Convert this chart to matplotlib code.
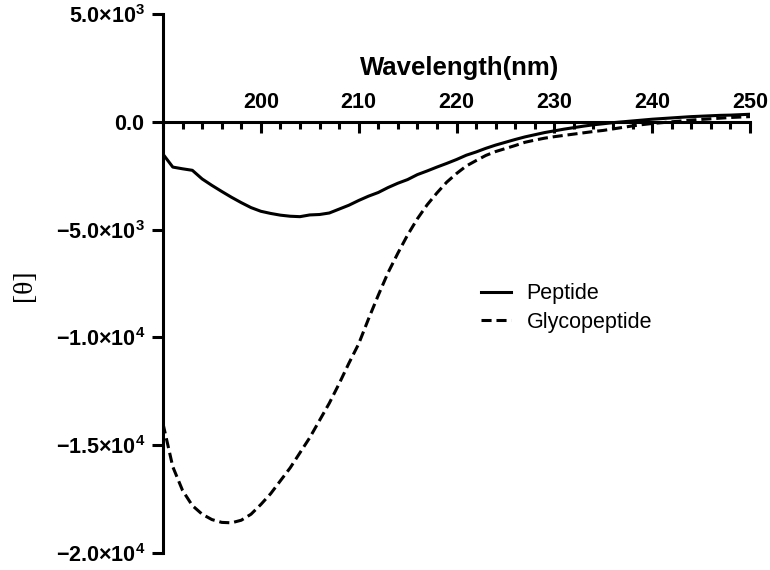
import numpy as np
import matplotlib
matplotlib.use("Agg")
from matplotlib import pyplot as plt
from matplotlib.ticker import MultipleLocator, FixedLocator

# CD spectra, mean residue ellipticity
wavelength = list(range(190, 251))
peptide = [
    -1500, -2100, -2180, -2250, -2650, -2950, -3230, -3500, -3750, -3980,
    -4150, -4250, -4330, -4380, -4400, -4320, -4300, -4230, -4050, -3870,
    -3650, -3450, -3280, -3050, -2850, -2680, -2450, -2280, -2100, -1930,
    -1750, -1550, -1400, -1230, -1080, -950, -820, -700, -600, -500,
    -420, -340, -270, -200, -140, -90, -40, 0, 40, 80,
    120, 150, 180, 210, 240, 260, 280, 300, 310, 330,
    350,
]
glycopeptide = [
    -14000, -16000, -17100, -17800, -18200, -18450, -18580, -18600, -18480, -18200,
    -17750, -17250, -16650, -16050, -15350, -14650, -13850, -13050, -12150, -11200,
    -10300, -9150, -8050, -7000, -6100, -5250, -4500, -3850, -3300, -2800,
    -2400, -2050, -1800, -1560, -1380, -1240, -1100, -950, -850, -760,
    -690, -630, -570, -510, -450, -400, -330, -260, -190, -130,
    -80, -40, 0, 40, 80, 110, 140, 170, 200, 220,
    240,
]
x_ticks = [200, 210, 220, 230, 240, 250]
y_ticks = [5000, 0, -5000, -10000, -15000, -20000]
y_tick_labels = [
    r"$\mathbf{5.0{\times}10^{3}}$",
    r"$\mathbf{0.0}$",
    r"$\mathbf{-5.0{\times}10^{3}}$",
    r"$\mathbf{-1.0{\times}10^{4}}$",
    r"$\mathbf{-1.5{\times}10^{4}}$",
    r"$\mathbf{-2.0{\times}10^{4}}$",
]

plt.rcParams["font.family"] = ["Liberation Sans", "DejaVu Sans"]
plt.rcParams["mathtext.fontset"] = "custom"
plt.rcParams["mathtext.rm"] = "Liberation Sans"
plt.rcParams["mathtext.bf"] = "Liberation Sans:bold"

W, H = 770, 570
fig = plt.figure(figsize=(7.7, 5.7), dpi=100)
ax = fig.add_axes([163 / W, 1 - 553 / H, (750 - 163) / W, (553 - 14) / H])

lw = 2.2
ax.plot(wavelength, peptide, color="black", lw=lw, label="Peptide")
ax.plot(wavelength, glycopeptide, color="black", lw=lw, linestyle=(0, (3.3, 1.6)),
        label="Glycopeptide")

ax.set_xlim(190, 250)
ax.set_ylim(-20000, 5000)

# x axis sits at y = 0, labels above it
ax.spines["bottom"].set_visible(False)
ax.spines["right"].set_visible(False)
ax.spines["top"].set_position(("data", 0))
ax.spines["top"].set_linewidth(2.2)
ax.spines["left"].set_linewidth(2.2)
ax.xaxis.tick_top()
ax.xaxis.set_major_locator(FixedLocator(x_ticks))
ax.xaxis.set_minor_locator(MultipleLocator(2))
ax.tick_params(axis="x", which="major", direction="in", length=8, width=2.2,
               labelsize=15.5, pad=6)
ax.tick_params(axis="x", which="minor", direction="in", length=5, width=2.2)
for lab in ax.get_xticklabels():
    lab.set_fontweight("bold")

ax.yaxis.set_major_locator(FixedLocator(y_ticks))
ax.set_yticklabels(y_tick_labels)
ax.tick_params(axis="y", direction="out", length=8, width=2.2, labelsize=15.5, pad=5)

fig.text(460 / W, 1 - 68 / H, "Wavelength(nm)", fontsize=18.5, fontweight="bold",
         ha="center", va="center")
fig.text(25 / W, 1 - 285 / H, "[θ]", fontsize=20, rotation=90,
         family=["Liberation Serif", "DejaVu Serif"], ha="center", va="center")

ax.legend(loc="upper left", bbox_to_anchor=(0.625, 0.503),
          bbox_transform=fig.transFigure, frameon=False, fontsize=15.5,
          handlelength=1.4, handletextpad=0.7, borderpad=0, borderaxespad=0,
          labelspacing=0.35)

fig.savefig("out.png", dpi=100)
